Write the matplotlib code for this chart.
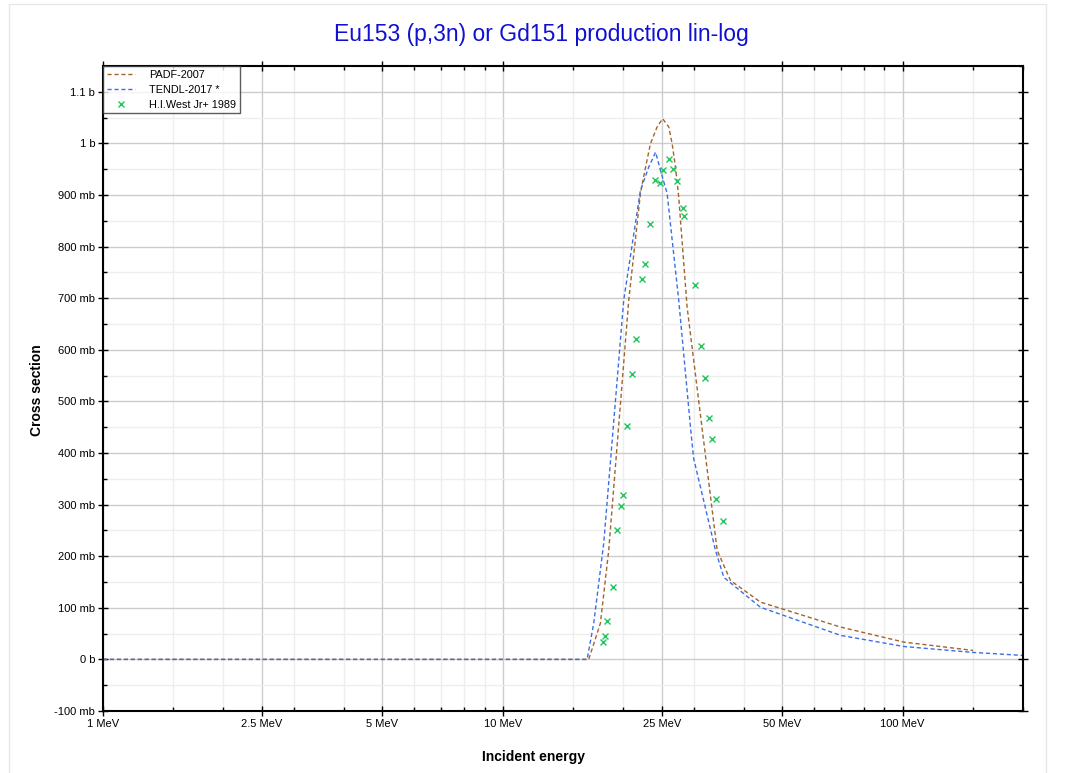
import matplotlib
matplotlib.use("Agg")
import matplotlib.pyplot as plt
from matplotlib.ticker import FixedLocator, FuncFormatter, NullFormatter
from matplotlib.lines import Line2D

plt.rcParams['font.family'] = ['Liberation Sans', 'DejaVu Sans']

# ---- data (energy in MeV, cross section in mb) ----
padf_e = [1.0, 16.4, 17.54, 18.4, 20.65, 22.09, 22.5, 23.39, 24.32, 25.1, 26.0, 26.52, 27.03, 27.54,
          28.9, 34.37, 37.1, 44.1, 70.0, 100.7, 150.0]
padf_xs = [0, 0, 70, 211, 696, 903, 935, 999, 1032, 1048, 1032, 999, 954, 896,
           683, 211, 153, 111, 62.6, 33.5, 17.4]

tendl_e = [1.0, 16.25, 16.88, 17.88, 20.06, 22.09, 23.17, 24.1, 24.79, 25.76, 27.54, 29.47, 30.0,
           34.04, 35.7, 44.1, 70.0, 100.7, 150.0, 200.0]
tendl_xs = [0, 0, 70, 225, 696, 909, 954, 983, 948, 903, 696, 450, 390,
            211, 159, 101, 46.5, 25, 13.5, 7.7]

west_e = [26.0, 25.18, 26.67, 23.99, 24.69, 27.19, 28.26, 28.47, 23.39, 22.69, 22.26, 30.21,
          21.59, 31.27, 21.10, 32.0, 20.50, 32.74, 33.31, 19.95, 19.72, 34.18, 19.35, 35.58,
          18.83, 18.19, 17.98, 17.85]
west_xs = [970, 948, 951, 929, 924, 928, 874, 860, 844, 767, 737, 726,
           620, 608, 553, 546, 453, 467, 427, 319, 297, 311, 250, 269,
           141, 74, 45, 34]

x_major = [1, 2.5, 5, 10, 25, 50, 100]
x_major_labels = ["1 MeV", "2.5 MeV", "5 MeV", "10 MeV", "25 MeV", "50 MeV", "100 MeV"]
x_minor = [1.5, 2, 3, 4, 6, 7, 8, 9, 15, 20, 30, 40, 60, 70, 80, 90, 150, 200]
y_major = list(range(-100, 1101, 100))
y_minor = list(range(-50, 1151, 100))

fig = plt.figure(figsize=(10.71, 7.73), dpi=100)
fig.patch.set_facecolor('white')
# outer light frame
fig.add_artist(Line2D([9/1071, 9/1071, 1046/1071, 1046/1071], [0, 1-4/773, 1-4/773, 0],
                      transform=fig.transFigure, color='#e6e6e6', lw=1))

ax = fig.add_axes([103/1071, 1-711/773, 920/1071, 645/773])
ax.set_xscale('log')
ax.set_xlim(1, 200)
ax.set_ylim(-100, 1150)

ax.xaxis.set_major_locator(FixedLocator(x_major))
ax.xaxis.set_minor_locator(FixedLocator(x_minor))
ax.xaxis.set_major_formatter(FuncFormatter(lambda v, p: x_major_labels[x_major.index(v)] if v in x_major else ""))
ax.xaxis.set_minor_formatter(NullFormatter())

def yfmt(v, p):
    v = int(round(v))
    if v == 0:
        return "0 b"
    if abs(v) >= 1000:
        return f"{v/1000:g} b"
    return f"{v} mb"

ax.yaxis.set_major_locator(FixedLocator(y_major))
ax.yaxis.set_minor_locator(FixedLocator(y_minor))
ax.yaxis.set_major_formatter(FuncFormatter(yfmt))

ax.grid(which='major', color='#cccccc', lw=1)
ax.grid(which='minor', color='#eeeeee', lw=1)
ax.set_axisbelow(True)

ax.tick_params(which='major', direction='inout', length=7, width=1, labelsize=8, colors='black',
               top=True, right=True, pad=2)
ax.tick_params(which='minor', direction='in', length=3, width=1, top=True, right=True)
for s in ax.spines.values():
    s.set_color('black')
    s.set_linewidth(1.5)

ax.plot(padf_e, padf_xs, color='#a0642d', lw=1, ls=(0, (3, 2)), label='PADF-2007')
ax.plot(tendl_e, tendl_xs, color='#3a6ee8', lw=1, ls=(0, (3, 2)), label='TENDL-2017 *')
ax.plot(west_e, west_xs, ls='none', marker='x', ms=4, mew=1, color='#22c55e', label='H.I.West Jr+ 1989')

leg = ax.legend(loc='upper left', fontsize=7.8, frameon=True, fancybox=False, borderaxespad=0,
                handlelength=2.6, borderpad=0.35, labelspacing=0.45, handletextpad=1.3)
leg.get_frame().set_edgecolor('#333333')
leg.get_frame().set_linewidth(1)

fig.text(541/1071, 1-35/773, "Eu153 (p,3n) or Gd151 production lin-log", color='#1010d0',
         fontsize=16.5, ha='center', va='center')
fig.text(534/1071, 1-757/773, "Incident energy", fontsize=10, fontweight='bold', ha='center', va='center')
fig.text(37/1071, 1-390/773, "Cross section", fontsize=10, fontweight='bold', ha='center', va='center',
         rotation=90)

fig.savefig("out.png", dpi=100, facecolor='white')
